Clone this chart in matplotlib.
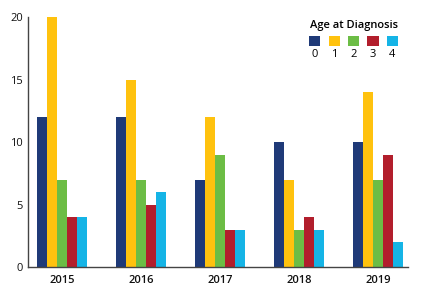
import numpy as np
import matplotlib
matplotlib.use('Agg')
import matplotlib.pyplot as plt
from matplotlib.offsetbox import VPacker

years = ['2015', '2016', '2017', '2018', '2019']
ages = ['0', '1', '2', '3', '4']
age0 = [12, 12, 7, 10, 10]
age1 = [20, 15, 12, 7, 14]
age2 = [7, 7, 9, 3, 7]
age3 = [4, 5, 3, 4, 9]
age4 = [4, 6, 3, 3, 2]
colors = ['#1f3a78', '#ffc20e', '#6cbd45', '#b21e2c', '#15b4e6']

plt.rcParams['font.family'] = ['Open Sans', 'DejaVu Sans']

fig = plt.figure(figsize=(4.25, 3.0), dpi=100)
ax = fig.add_axes([0.066, 0.11, 0.894, 0.833])

x = np.arange(len(years))
w = 0.127
series = [age0, age1, age2, age3, age4]
for i, vals in enumerate(series):
    ax.bar(x + (i - 2) * w, vals, width=w, color=colors[i], label=ages[i])

ax.set_xlim(-0.43, 4.38)
ax.set_ylim(0, 20)
ax.set_yticks([0, 5, 10, 15, 20])
ax.set_xticks(x)
ax.set_xticklabels(years, fontweight='semibold')
ax.tick_params(axis='both', length=0, labelsize=8, colors='#111111')
ax.tick_params(axis='x', pad=6)
ax.spines['top'].set_visible(False)
ax.spines['right'].set_visible(False)
for s in ['left', 'bottom']:
    ax.spines[s].set_color('#444444')
    ax.spines[s].set_linewidth(1.0)

leg = ax.legend(title='Age at Diagnosis', ncol=5, frameon=False,
                loc='upper right', bbox_to_anchor=(1.0, 1.03),
                handlelength=1.0, handleheight=1.0, handletextpad=0.2,
                columnspacing=0.75, fontsize=8, title_fontsize=8)
leg.get_title().set_fontweight('semibold')
# put the color squares above their labels
for col in leg._legend_handle_box.get_children():
    for item in col.get_children():
        item.__class__ = VPacker
        item.align = 'center'
        item.sep = 2

fig.savefig('out.png', dpi=100)
